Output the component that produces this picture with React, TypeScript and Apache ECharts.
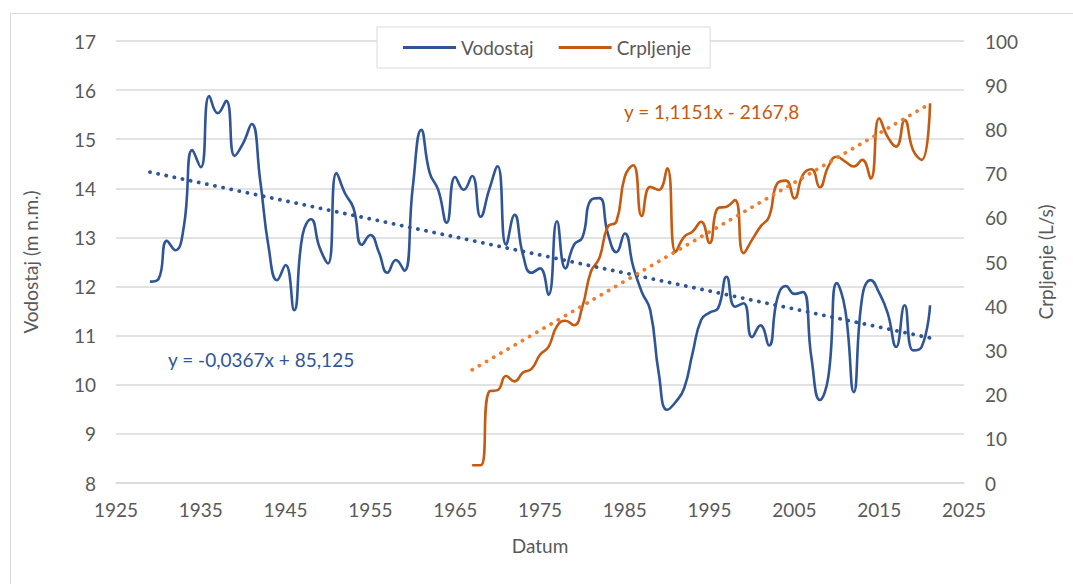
import React, { useEffect, useRef } from "react";
import * as echarts from "echarts";

// ---- data ----
const vodostajStartYear = 1929;
const vodostaj = [
  12.10, 12.15, 12.93, 12.74, 13.22, 14.78, 14.43, 15.88, 15.53, 15.78,
  14.66, 14.92, 15.31, 14.17, 12.80, 12.13, 12.44, 11.52, 13.05, 13.37,
  12.80, 12.47, 14.31, 13.90, 13.60, 12.85, 13.05, 12.70, 12.28, 12.54,
  12.32, 14.03, 15.19, 14.31, 13.97, 13.30, 14.23, 13.97, 14.25, 13.42,
  13.97, 14.45, 12.85, 13.46, 12.64, 12.28, 12.37, 11.83, 13.33, 12.37,
  12.85, 13.00, 13.76, 13.80, 13.08, 12.70, 13.08, 12.40, 11.89, 11.52,
  10.24, 9.49, 9.65, 9.93, 10.65, 11.32, 11.47, 11.56, 12.20, 11.59,
  11.66, 10.97, 11.21, 10.80, 11.77, 12.01, 11.85, 11.89, 10.56, 9.69,
  10.16, 12.07, 11.52, 9.85, 11.79, 12.13, 11.87, 11.46, 10.77, 11.62,
  10.70, 10.77, 11.62,
];
const crpljenjeStartYear = 1967;
const crpljenje = [
  4, 4, 20.7, 21, 24.2, 23, 25, 25.8, 29, 30.8,
  35.5, 36.7, 35.7, 39.9, 47.8, 50.9, 58, 59.1, 69.3, 71.9,
  60.4, 67, 66.3, 71.2, 52.3, 55.7, 56.9, 59.1, 54.3, 62.2,
  62.5, 64, 52, 55, 58, 60.2, 67.8, 68.4, 64.4, 69.7,
  71, 66.9, 71.6, 73.8, 72.7, 71.6, 73.1, 68.9, 82.5, 78.3,
  76.1, 82.1, 75.3, 73.1, 85.9,
];
// trendline coefficients (from the chart's equations)
const vodostajTrend = { slope: -0.0367, intercept: 85.125 };
const crpljenjeTrend = { slope: 1.1151, intercept: -2167.8 };
const vodostajEqText = "y = -0,0367x + 85,125";
const crpljenjeEqText = "y = 1,1151x - 2167,8";
const seriesNames = ["Vodostaj", "Crpljenje"];
const xAxisName = "Datum";
const leftAxisName = "Vodostaj (m n.m.)";
const rightAxisName = "Crpljenje (L/s)";

const toPairs = (start: number, arr: number[]) => arr.map((v, i) => [start + i, v]);
const trendPairs = (start: number, arr: number[], t: { slope: number; intercept: number }) => {
  const x0 = start;
  const x1 = start + arr.length - 1;
  return [
    [x0, t.slope * x0 + t.intercept],
    [x1, t.slope * x1 + t.intercept],
  ];
};

const BLUE = "#2F5597";
const ORANGE = "#C55A11";
const ORANGE_LIGHT = "#ED7D31";
const GRAY = "#595959";
const FONT = "Lato";
const FS = 19;

export default function App() {
  const ref = useRef<HTMLDivElement>(null);
  useEffect(() => {
    if (!ref.current) return;
    const chart = echarts.init(ref.current, null, { renderer: "svg" });
    chart.setOption({
      animation: false,
      backgroundColor: "#ffffff",
      textStyle: { fontFamily: FONT, color: GRAY },
      grid: { left: 116, right: 109, top: 41, bottom: 101, containLabel: false },
      legend: {
        data: seriesNames,
        top: 27,
        left: 377,
        icon: "rect",
        itemWidth: 53,
        itemHeight: 3,
        itemGap: 25,
        padding: [11, 19, 11, 26],
        borderColor: "#d9d9d9",
        borderWidth: 1,
        backgroundColor: "#ffffff",
        textStyle: { fontFamily: FONT, fontSize: FS, color: GRAY },
      },
      xAxis: {
        type: "value",
        min: 1925,
        max: 2025,
        interval: 5,
        name: xAxisName,
        nameLocation: "middle",
        nameGap: 53,
        nameTextStyle: { fontFamily: FONT, fontSize: FS, color: GRAY },
        axisLine: { show: true, lineStyle: { color: "#d9d9d9", width: 1.5 } },
        axisTick: { show: false },
        splitLine: { show: false },
        axisLabel: {
          fontFamily: FONT,
          fontSize: FS,
          color: GRAY,
          margin: 17,
          formatter: (v: number) => ((v - 1925) % 10 === 0 ? String(v) : ""),
        },
      },
      yAxis: [
        {
          type: "value",
          min: 8,
          max: 17,
          interval: 1,
          name: leftAxisName,
          nameLocation: "middle",
          nameGap: 76,
          nameRotate: 90,
          nameTextStyle: { fontFamily: FONT, fontSize: FS, color: GRAY },
          axisLine: { show: false },
          axisTick: { show: false },
          axisLabel: { fontFamily: FONT, fontSize: FS, color: GRAY, margin: 20 },
          splitLine: { show: true, lineStyle: { color: "#d9d9d9", width: 1.5 } },
        },
        {
          type: "value",
          min: 0,
          max: 100,
          interval: 10,
          name: rightAxisName,
          nameLocation: "middle",
          nameGap: 72,
          nameRotate: 90,
          nameTextStyle: { fontFamily: FONT, fontSize: FS, color: GRAY },
          axisLine: { show: false },
          axisTick: { show: false },
          axisLabel: { fontFamily: FONT, fontSize: FS, color: GRAY, margin: 21 },
          splitLine: { show: false },
        },
      ],
      series: [
        {
          name: seriesNames[0],
          type: "line",
          yAxisIndex: 0,
          data: toPairs(vodostajStartYear, vodostaj),
          smooth: 0.5,
          showSymbol: false,
          z: 3,
          lineStyle: { color: BLUE, width: 2.6 },
          itemStyle: { color: BLUE },
        },
        {
          name: seriesNames[1],
          type: "line",
          yAxisIndex: 1,
          data: toPairs(crpljenjeStartYear, crpljenje),
          smooth: 0.5,
          showSymbol: false,
          z: 3,
          lineStyle: { color: ORANGE, width: 2.6 },
          itemStyle: { color: ORANGE },
        },
        {
          name: "trendV",
          type: "line",
          yAxisIndex: 0,
          data: trendPairs(vodostajStartYear, vodostaj, vodostajTrend),
          showSymbol: false,
          z: 4,
          lineStyle: { color: BLUE, width: 3.8, type: [0.1, 8.2], cap: "round" },
        },
        {
          name: "trendC",
          type: "line",
          yAxisIndex: 1,
          data: trendPairs(crpljenjeStartYear, crpljenje, crpljenjeTrend),
          showSymbol: false,
          z: 4,
          lineStyle: { color: ORANGE_LIGHT, width: 3.8, type: [0.1, 8.2], cap: "round" },
        },
      ],
      graphic: [
        {
          type: "rect",
          left: 8,
          top: 11,
          shape: { width: 1070, height: 580 },
          style: { fill: "none", stroke: "#d9d9d9", lineWidth: 1 },
          silent: true,
          z: -1,
        },
        {
          type: "text",
          left: 168,
          top: 350,
          style: { text: vodostajEqText, fill: BLUE, font: `${FS}px ${FONT}` },
        },
        {
          type: "text",
          left: 624,
          top: 102,
          style: { text: crpljenjeEqText, fill: ORANGE, font: `${FS}px ${FONT}` },
        },
      ],
    });
    return () => chart.dispose();
  }, []);
  return (
    <div
      ref={ref}
      style={{ position: "fixed", left: 0, top: 0, width: 1073, height: 584, background: "#fff" }}
    />
  );
}
